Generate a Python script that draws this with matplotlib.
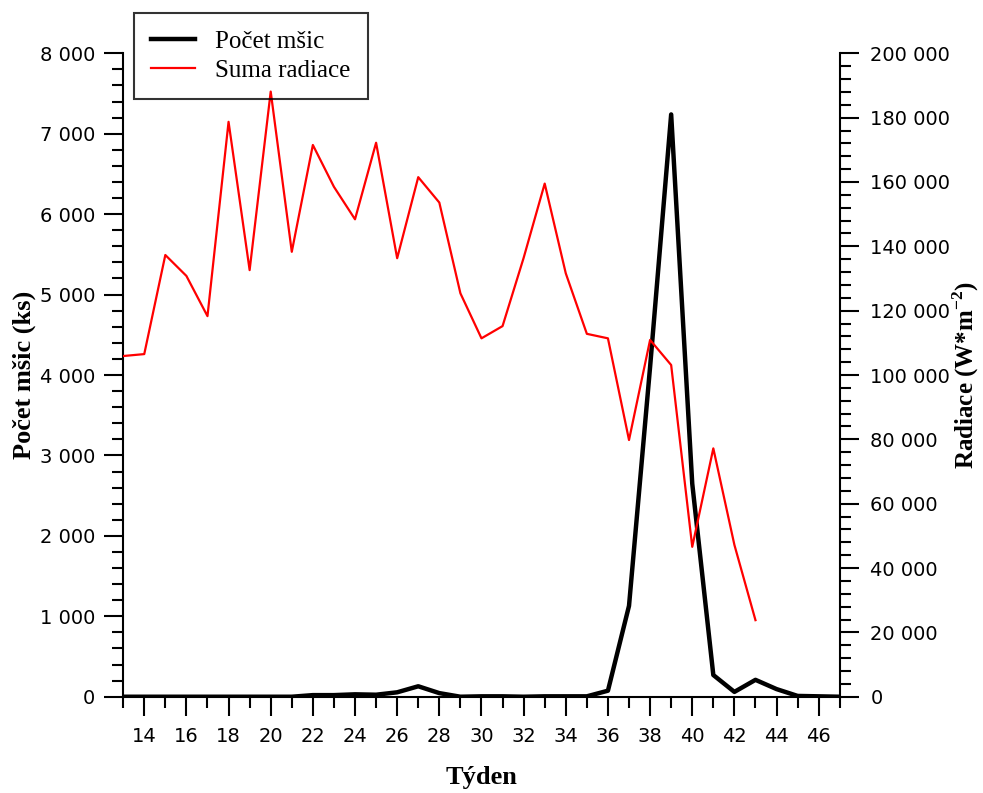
import matplotlib
matplotlib.use("Agg")
import matplotlib.pyplot as plt
import matplotlib.ticker as mtick

# weeks and values
tyden_msice = list(range(13, 48))
pocet_msic = [0, 0, 0, 0, 0, 0, 0, 0, 0, 20, 20, 30, 25, 55, 130, 45, 0, 5, 5,
              0, 5, 5, 5, 75, 1130, 4100, 7240, 2650, 270, 60, 210, 95, 10, 5, 0]

tyden_rad = list(range(13, 44))
suma_radiace = [105900, 106500, 137300, 130800, 118300, 178700, 132600, 188100,
                138300, 171500, 158500, 148400, 172200, 136300, 161500, 153600,
                125400, 111400, 115200, 136400, 159500, 131600, 112800, 111400,
                79800, 110900, 103100, 46600, 77200, 47200, 23800]

plt.rcParams['mathtext.fontset'] = 'custom'
plt.rcParams['mathtext.rm'] = 'Liberation Serif'
plt.rcParams['mathtext.bf'] = 'Liberation Serif:bold'

fig = plt.figure(figsize=(9.83, 7.93), dpi=100)
ax = fig.add_axes([0.1253, 0.1214, 0.729, 0.8114])
ax2 = ax.twinx()

l1, = ax.plot(tyden_msice, pocet_msic, color='black', lw=3.2, label='Počet mšic', zorder=3)
l2, = ax2.plot(tyden_rad, suma_radiace, color='red', lw=1.6, label='Suma radiace', zorder=5)

ax.set_xlim(13, 47)
ax.set_ylim(0, 8000)
ax2.set_ylim(0, 200000)

ax.set_xticks(range(14, 47, 2))
ax.set_xticks(range(13, 48, 2), minor=True)
ax.yaxis.set_major_locator(mtick.MultipleLocator(1000))
ax.yaxis.set_minor_locator(mtick.MultipleLocator(200))
ax2.yaxis.set_major_locator(mtick.MultipleLocator(20000))
ax2.yaxis.set_minor_locator(mtick.MultipleLocator(4000))

fmt = mtick.FuncFormatter(lambda v, p: f"{int(round(v)):,}".replace(",", " "))
ax.yaxis.set_major_formatter(fmt)
ax2.yaxis.set_major_formatter(fmt)

for a in (ax, ax2):
    a.spines['top'].set_visible(False)
    for s in a.spines.values():
        s.set_linewidth(1.5)
    a.tick_params(which='major', length=14, width=1.5, labelsize=14, direction='out')
    a.tick_params(which='minor', length=8, width=1.5, direction='out')
ax2.spines['left'].set_visible(False)
ax2.spines['bottom'].set_visible(False)
ax.spines['right'].set_visible(False)
ax.tick_params(axis='x', pad=8)
ax.tick_params(axis='y', pad=6)
ax2.tick_params(axis='y', pad=8)

ax.set_xlabel('Týden', family='Liberation Serif', fontweight='bold', fontsize=19, labelpad=14)
ax.set_ylabel('Počet mšic (ks)', family='Liberation Serif', fontweight='bold', fontsize=19, labelpad=3)
ax2.set_ylabel(r'Radiace (W*m$^{\mathbf{-2}}$)', family='Liberation Serif', fontweight='bold',
               fontsize=18, rotation=90, labelpad=0)

leg = fig.legend([l1, l2], ['Počet mšic', 'Suma radiace'], loc='upper left',
                 bbox_to_anchor=(0.1363, 0.9836), borderaxespad=0, fancybox=False,
                 prop={'family': 'Liberation Serif', 'size': 18}, handlelength=1.75,
                 borderpad=0.7, labelspacing=0.25, handletextpad=0.8)
leg.get_frame().set_edgecolor('black')
leg.get_frame().set_facecolor('none')
leg.get_frame().set_linewidth(1.5)

fig.savefig('out.png', dpi=100)
